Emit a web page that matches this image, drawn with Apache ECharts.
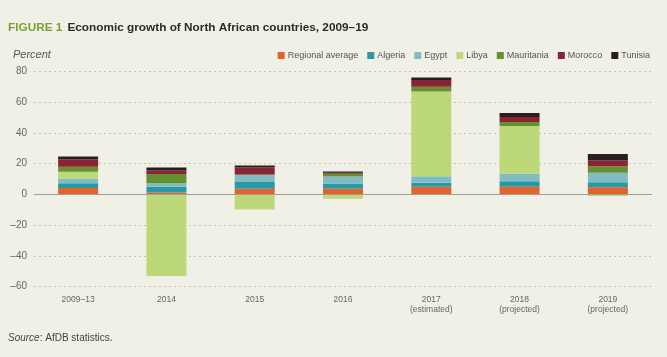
<!DOCTYPE html>
<html>
<head>
<meta charset="utf-8">
<script src="https://cdn.jsdelivr.net/npm/echarts@6/dist/echarts.min.js"></script>
<style>
html,body{margin:0;padding:0;background:#f0f0e6;}
#c{width:667px;height:357px;}
</style>
</head>
<body>
<div id="c"></div>
<script>
const categories = ['2009–13','2014','2015','2016','2017\n(estimated)','2018\n(projected)','2019\n(projected)'];
const regional   = [4.2, 1.3, 3.6, 3.6, 5.0, 4.9, 4.6];
const algeria    = [3.1, 3.7, 4.5, 3.4, 2.6, 3.7, 3.3];
const egypt      = [3.0, 2.2, 4.5, 4.6, 4.2, 4.8, 6.1];
const libya      = [4.4, -53.0, -9.8, -2.8, 55.1, 31.0, -1.0];
const mauritania = [3.3, 6.1, 0.4, 1.8, 3.0, 2.6, 4.3];
const morocco    = [4.6, 2.3, 4.4, 0.6, 4.4, 3.3, 3.9];
const tunisia    = [2.0, 1.8, 1.3, 0.8, 1.7, 2.6, 4.1];
const yTicks = [-60, -40, -20, 0, 20, 40, 60, 80];

const names  = ['Regional average','Algeria','Egypt','Libya','Mauritania','Morocco','Tunisia'];
const colors = ['#e3632b','#2a99a4','#80bcc6','#bdd878','#64902f','#8a2333','#2a1d1d'];
const values = [regional, algeria, egypt, libya, mauritania, morocco, tunisia];

const series = names.map((n, i) => ({
  name: n,
  type: 'bar',
  stack: 'total',
  barWidth: 40,
  data: values[i],
  itemStyle: { color: colors[i] },
  emphasis: { disabled: true }
}));
series[0].markLine = {
  silent: true,
  symbol: 'none',
  label: { show: false },
  lineStyle: { color: '#a09e98', type: 'solid', width: 1 },
  data: [{ yAxis: 0 }]
};

const chart = echarts.init(document.getElementById('c'));
chart.setOption({
  backgroundColor: '#f0f0e6',
  animation: false,
  textStyle: { fontFamily: 'Liberation Sans, Arial, sans-serif' },
  title: [{
    text: '{g|FIGURE 1} {b|Economic growth of North African countries, 2009–19}',
    left: 3, top: 14,
    textStyle: {
      rich: {
        g: { color: '#7aa035', fontWeight: 'bold', fontSize: 11.8, fontFamily: 'Liberation Sans, Arial, sans-serif' },
        b: { color: '#2b2b2b', fontWeight: 'bold', fontSize: 11.8, fontFamily: 'Liberation Sans, Arial, sans-serif' }
      }
    }
  }, {
    text: 'Percent',
    left: 8, top: 44,
    textStyle: { color: '#555', fontStyle: 'italic', fontWeight: 'normal', fontSize: 11 }
  }, {
    text: '{i|Source}: AfDB statistics.',
    left: 3, top: 328,
    textStyle: {
      color: '#444', fontWeight: 'normal', fontSize: 10,
      rich: { i: { fontStyle: 'italic', color: '#444', fontSize: 10 } }
    }
  }],
  legend: {
    right: 12, top: 46,
    icon: 'rect',
    itemWidth: 7, itemHeight: 7, itemGap: 9,
    textStyle: { color: '#555', fontSize: 9, padding: [0, 0, 0, -2] },
    data: names
  },
  grid: { left: 34, right: 15, top: 71.3, bottom: 70.3 },
  xAxis: {
    type: 'category',
    data: categories,
    axisLine: { show: false },
    axisTick: { show: false },
    axisLabel: { color: '#666', fontSize: 8.5, margin: 8, lineHeight: 10, fontFamily: 'Liberation Sans Narrow, Liberation Sans, Arial, sans-serif' }
  },
  yAxis: {
    type: 'value',
    min: -60, max: 80, interval: 20,
    axisLine: { show: false },
    axisTick: { show: false },
    axisLabel: {
      color: '#666', fontSize: 10, margin: 7,
      formatter: v => yTicks.includes(v) ? (v < 0 ? '–' + Math.abs(v) : String(v)) : ''
    },
    splitLine: { lineStyle: { color: '#c4c3bb', type: [2, 3], width: 1 } }
  },
  series: series
});
</script>
</body>
</html>
